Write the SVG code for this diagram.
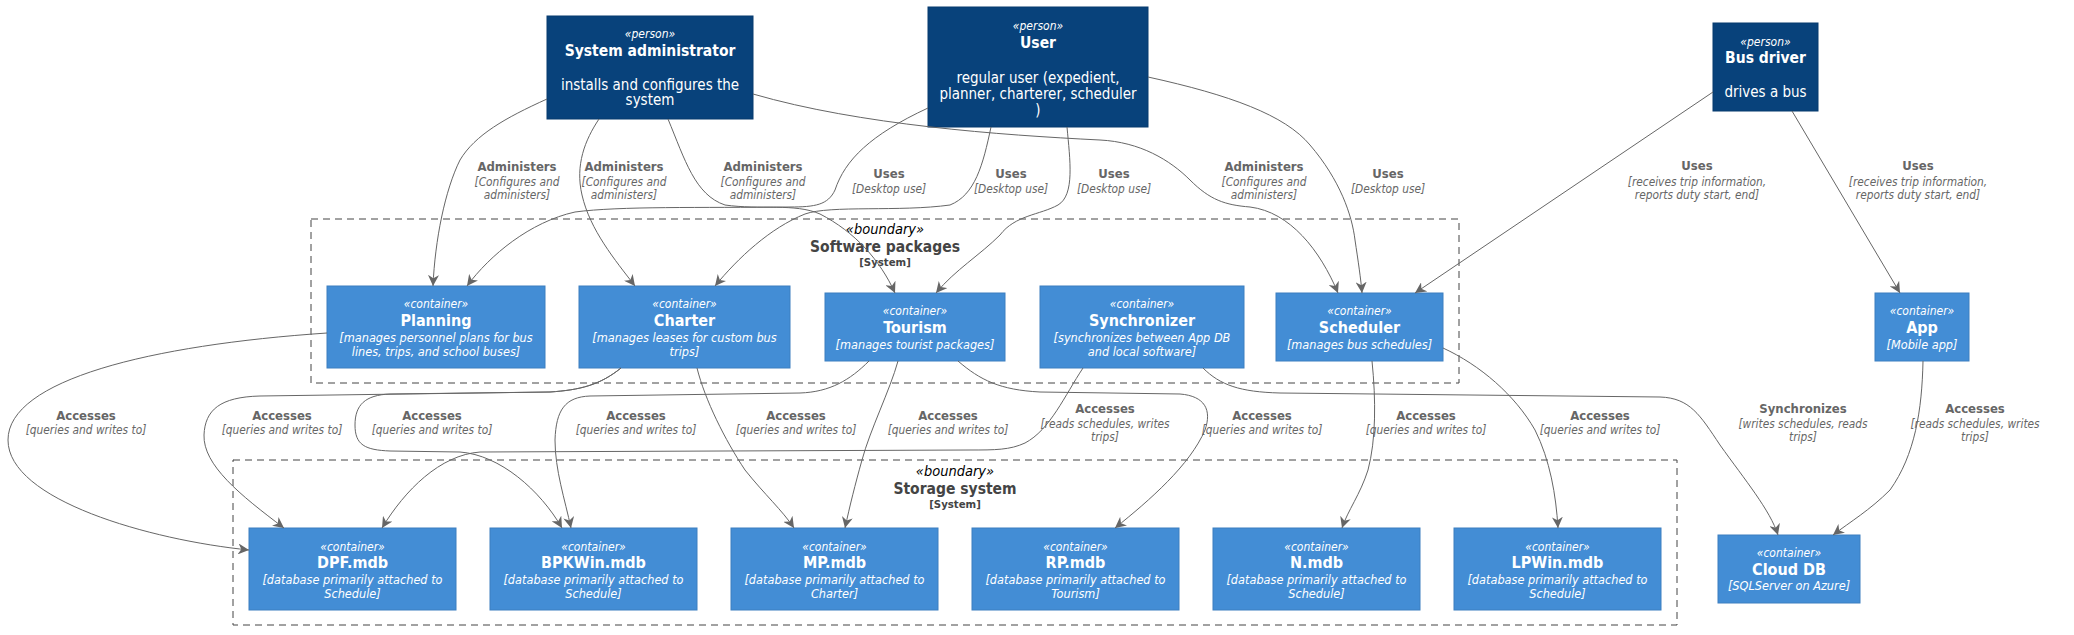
<svg xmlns="http://www.w3.org/2000/svg" width="2074" height="635" viewBox="0 0 2074 635">
<style>
text{font-family:"DejaVu Sans Condensed","DejaVu Sans",sans-serif;font-stretch:condensed;text-anchor:middle}
.person rect{fill:#08427B;stroke:#073B6F;stroke-width:1}
.cont rect{fill:#438DD5;stroke:#3C7FC0;stroke-width:1}
.st{font-style:italic;font-size:12px;fill:#fff}
.ti{font-weight:bold;font-size:16px;fill:#fff}
.pt{font-weight:bold;font-size:15.5px;fill:#fff}
.pd{font-size:15px;fill:#fff}
.cd{font-style:italic;font-size:12.6px;fill:#fff}
.lt{font-weight:bold;font-size:13px;fill:#666}
.ld{font-style:italic;font-size:11.8px;fill:#666}
.bd{fill:none;stroke:#444;stroke-width:1;stroke-dasharray:7,5}
.bs{font-style:italic;font-size:14.5px;fill:#000}
.bn{font-weight:bold;font-size:15.5px;fill:#444}
.bt{font-weight:bold;font-size:11.3px;fill:#444}
#edges path{fill:none;stroke:#666;stroke-width:1;marker-end:url(#ah)}
</style>
<defs>
<marker id="ah" viewBox="0 0 10 10" refX="10" refY="5" markerWidth="11" markerHeight="11" markerUnits="userSpaceOnUse" orient="auto">
<path d="M0,0 L10,5 L0,10 L3,5 Z" fill="#666"/>
</marker>
</defs>
<rect width="2074" height="635" fill="#fff"/>

<g id="boundary-software">
<rect class="bd" x="311" y="219" width="1148" height="164"/>
<text class="bs" x="885" y="234">«boundary»</text>
<text class="bn" x="885" y="252">Software packages</text>
<text class="bt" x="885" y="266">[System]</text>
</g>
<g id="boundary-storage">
<rect class="bd" x="233" y="460" width="1444" height="165"/>
<text class="bs" x="955" y="476">«boundary»</text>
<text class="bn" x="955" y="494">Storage system</text>
<text class="bt" x="955" y="508">[System]</text>
</g>

<g id="sysadmin" class="person">
<rect x="547" y="16" width="206" height="103"/>
<text class="st" x="650" y="38">«person»</text>
<text class="pt" x="650" y="56">System administrator</text>
<text class="pd" x="650" y="90">installs and configures the</text>
<text class="pd" x="650" y="105">system</text>
</g>
<g id="user" class="person">
<rect x="928" y="7" width="220" height="120"/>
<text class="st" x="1038" y="30">«person»</text>
<text class="pt" x="1038" y="48">User</text>
<text class="pd" x="1038" y="83">regular user (expedient,</text>
<text class="pd" x="1038" y="99">planner, charterer, scheduler</text>
<text class="pd" x="1038" y="115">)</text>
</g>
<g id="busdriver" class="person">
<rect x="1713" y="23" width="105" height="88"/>
<text class="st" x="1765.5" y="46">«person»</text>
<text class="pt" x="1765.5" y="63">Bus driver</text>
<text class="pd" x="1765.5" y="97">drives a bus</text>
</g>

<g id="planning" class="cont">
<rect x="327" y="286" width="218" height="82"/>
<text class="st" x="436" y="308">«container»</text>
<text class="ti" x="436" y="326">Planning</text>
<text class="cd" x="436" y="342">[manages personnel plans for bus</text>
<text class="cd" x="436" y="356">lines, trips, and school buses]</text>
</g>
<g id="charter" class="cont">
<rect x="579" y="286" width="211" height="82"/>
<text class="st" x="684.5" y="308">«container»</text>
<text class="ti" x="684.5" y="326">Charter</text>
<text class="cd" x="684.5" y="342">[manages leases for custom bus</text>
<text class="cd" x="684.5" y="356">trips]</text>
</g>
<g id="tourism" class="cont">
<rect x="825" y="293" width="180" height="68"/>
<text class="st" x="915" y="315">«container»</text>
<text class="ti" x="915" y="333">Tourism</text>
<text class="cd" x="915" y="349">[manages tourist packages]</text>
</g>
<g id="synchronizer" class="cont">
<rect x="1040" y="286" width="204" height="82"/>
<text class="st" x="1142" y="308">«container»</text>
<text class="ti" x="1142" y="326">Synchronizer</text>
<text class="cd" x="1142" y="342">[synchronizes between App DB</text>
<text class="cd" x="1142" y="356">and local software]</text>
</g>
<g id="scheduler" class="cont">
<rect x="1276" y="293" width="167" height="68"/>
<text class="st" x="1359.5" y="315">«container»</text>
<text class="ti" x="1359.5" y="333">Scheduler</text>
<text class="cd" x="1359.5" y="349">[manages bus schedules]</text>
</g>
<g id="app" class="cont">
<rect x="1875" y="293" width="94" height="68"/>
<text class="st" x="1922" y="315">«container»</text>
<text class="ti" x="1922" y="333">App</text>
<text class="cd" x="1922" y="349">[Mobile app]</text>
</g>

<g id="dpf" class="cont">
<rect x="249" y="528" width="207" height="82"/>
<text class="st" x="352.5" y="551">«container»</text>
<text class="ti" x="352.5" y="568">DPF.mdb</text>
<text class="cd" x="352.5" y="584">[database primarily attached to</text>
<text class="cd" x="352.5" y="598">Schedule]</text>
</g>
<g id="bpkwin" class="cont">
<rect x="490" y="528" width="207" height="82"/>
<text class="st" x="593.5" y="551">«container»</text>
<text class="ti" x="593.5" y="568">BPKWin.mdb</text>
<text class="cd" x="593.5" y="584">[database primarily attached to</text>
<text class="cd" x="593.5" y="598">Schedule]</text>
</g>
<g id="mp" class="cont">
<rect x="731" y="528" width="207" height="82"/>
<text class="st" x="834.5" y="551">«container»</text>
<text class="ti" x="834.5" y="568">MP.mdb</text>
<text class="cd" x="834.5" y="584">[database primarily attached to</text>
<text class="cd" x="834.5" y="598">Charter]</text>
</g>
<g id="rp" class="cont">
<rect x="972" y="528" width="207" height="82"/>
<text class="st" x="1075.5" y="551">«container»</text>
<text class="ti" x="1075.5" y="568">RP.mdb</text>
<text class="cd" x="1075.5" y="584">[database primarily attached to</text>
<text class="cd" x="1075.5" y="598">Tourism]</text>
</g>
<g id="n" class="cont">
<rect x="1213" y="528" width="207" height="82"/>
<text class="st" x="1316.5" y="551">«container»</text>
<text class="ti" x="1316.5" y="568">N.mdb</text>
<text class="cd" x="1316.5" y="584">[database primarily attached to</text>
<text class="cd" x="1316.5" y="598">Schedule]</text>
</g>
<g id="lpwin" class="cont">
<rect x="1454" y="528" width="207" height="82"/>
<text class="st" x="1557.5" y="551">«container»</text>
<text class="ti" x="1557.5" y="568">LPWin.mdb</text>
<text class="cd" x="1557.5" y="584">[database primarily attached to</text>
<text class="cd" x="1557.5" y="598">Schedule]</text>
</g>
<g id="clouddb" class="cont">
<rect x="1718" y="535" width="142" height="68"/>
<text class="st" x="1789" y="557">«container»</text>
<text class="ti" x="1789" y="575">Cloud DB</text>
<text class="cd" x="1789" y="590">[SQLServer on Azure]</text>
</g>

<g id="edges">
<path d="M547,99 C505,118 475,135 460,160 C445,190 435,240 433,286"/>
<path d="M599,119 C585,140 575,165 582,195 C590,230 615,260 635,286"/>
<path d="M668,119 C685,160 695,195 725,205 C760,210 795,203 820,214 C855,232 880,260 895,293"/>
<path d="M928,108 C870,135 845,160 835,190 C828,205 815,207 790,207 C700,208 620,206 575,212 C530,222 490,255 467,286"/>
<path d="M991,127 C983,165 975,195 950,205 C900,212 830,205 805,214 C770,228 738,258 715,286"/>
<path d="M1067,127 C1070,160 1075,195 1058,205 C1040,215 1015,215 1000,235 C980,255 955,270 936,293"/>
<path d="M753,94 C860,125 1000,135 1100,140 C1140,142 1170,160 1190,180 C1210,200 1225,205 1250,207 C1290,212 1320,250 1338,293"/>
<path d="M1148,77 C1230,95 1285,115 1310,145 C1340,180 1352,215 1355,240 C1358,260 1361,280 1362,293"/>
<path d="M1713,92 L1415,293"/>
<path d="M1792,111 L1900,293"/>
<path d="M327,333 C150,345 8,380 8,440 C8,500 150,540 249,550"/>
<path d="M621,368 C600,385 580,390 550,392 L260,396 C220,397 205,410 204,435 C203,465 240,495 284,528"/>
<path d="M621,368 C600,385 580,390 550,392 L390,394 C365,395 355,405 355,425 C355,445 365,450 390,451 L460,452 C500,455 540,490 562,528"/>
<path d="M869,361 C850,380 830,392 800,393 L590,396 C565,397 556,410 555,440 C555,470 565,500 571,528"/>
<path d="M697,368 C705,400 725,440 745,470 C765,495 782,510 794,528"/>
<path d="M898,361 C890,390 870,430 862,460 C855,485 850,505 845,528"/>
<path d="M958,361 C980,380 1000,390 1040,392 L1180,394 C1205,396 1212,410 1205,430 C1190,465 1150,500 1115,528"/>
<path d="M1083,368 C1065,395 1050,430 1025,443 C1010,450 995,450 970,450 L480,452 C440,455 405,490 382,528"/>
<path d="M1203,368 C1220,385 1240,392 1280,393 L1660,397 C1690,398 1700,415 1720,445 C1745,480 1770,510 1778,535"/>
<path d="M1372,361 C1376,400 1376,440 1368,470 C1360,495 1348,510 1342,528"/>
<path d="M1443,348 C1480,365 1515,395 1535,430 C1550,460 1556,495 1558,528"/>
<path d="M1923,361 C1922,410 1915,455 1890,490 C1870,510 1850,522 1833,535"/>
</g>

<g id="edge-labels">
<text class="lt" x="517" y="171">Administers</text><text class="ld" x="517" y="186">[Configures and</text><text class="ld" x="517" y="199">administers]</text>
<text class="lt" x="624" y="171">Administers</text><text class="ld" x="624" y="186">[Configures and</text><text class="ld" x="624" y="199">administers]</text>
<text class="lt" x="763" y="171">Administers</text><text class="ld" x="763" y="186">[Configures and</text><text class="ld" x="763" y="199">administers]</text>
<text class="lt" x="889" y="178">Uses</text><text class="ld" x="889" y="193">[Desktop use]</text>
<text class="lt" x="1011" y="178">Uses</text><text class="ld" x="1011" y="193">[Desktop use]</text>
<text class="lt" x="1114" y="178">Uses</text><text class="ld" x="1114" y="193">[Desktop use]</text>
<text class="lt" x="1264" y="171">Administers</text><text class="ld" x="1264" y="186">[Configures and</text><text class="ld" x="1264" y="199">administers]</text>
<text class="lt" x="1388" y="178">Uses</text><text class="ld" x="1388" y="193">[Desktop use]</text>
<text class="lt" x="1697" y="170">Uses</text><text class="ld" x="1697" y="186">[receives trip information,</text><text class="ld" x="1697" y="199">reports duty start, end]</text>
<text class="lt" x="1918" y="170">Uses</text><text class="ld" x="1918" y="186">[receives trip information,</text><text class="ld" x="1918" y="199">reports duty start, end]</text>

<text class="lt" x="86" y="420">Accesses</text><text class="ld" x="86" y="434">[queries and writes to]</text>
<text class="lt" x="282" y="420">Accesses</text><text class="ld" x="282" y="434">[queries and writes to]</text>
<text class="lt" x="432" y="420">Accesses</text><text class="ld" x="432" y="434">[queries and writes to]</text>
<text class="lt" x="636" y="420">Accesses</text><text class="ld" x="636" y="434">[queries and writes to]</text>
<text class="lt" x="796" y="420">Accesses</text><text class="ld" x="796" y="434">[queries and writes to]</text>
<text class="lt" x="948" y="420">Accesses</text><text class="ld" x="948" y="434">[queries and writes to]</text>
<text class="lt" x="1105" y="413">Accesses</text><text class="ld" x="1105" y="428">[reads schedules, writes</text><text class="ld" x="1105" y="441">trips]</text>
<text class="lt" x="1262" y="420">Accesses</text><text class="ld" x="1262" y="434">[queries and writes to]</text>
<text class="lt" x="1426" y="420">Accesses</text><text class="ld" x="1426" y="434">[queries and writes to]</text>
<text class="lt" x="1600" y="420">Accesses</text><text class="ld" x="1600" y="434">[queries and writes to]</text>
<text class="lt" x="1803" y="413">Synchronizes</text><text class="ld" x="1803" y="428">[writes schedules, reads</text><text class="ld" x="1803" y="441">trips]</text>
<text class="lt" x="1975" y="413">Accesses</text><text class="ld" x="1975" y="428">[reads schedules, writes</text><text class="ld" x="1975" y="441">trips]</text>
</g>
</svg>
